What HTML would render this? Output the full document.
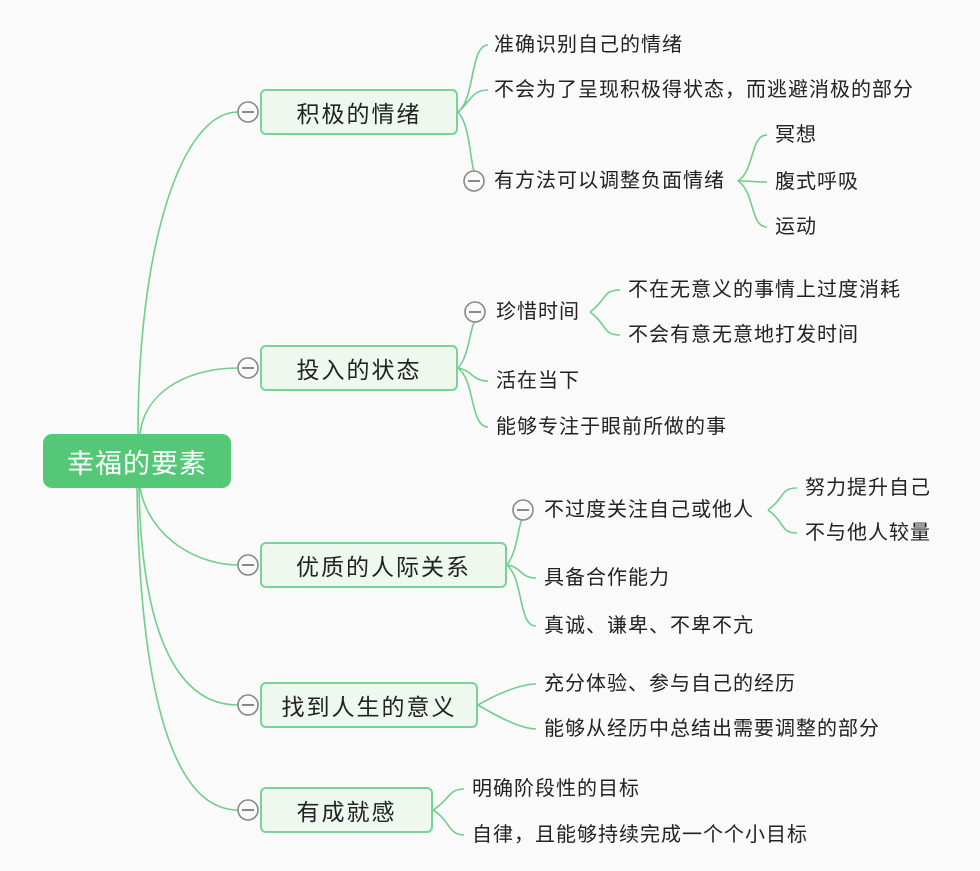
<html><head><style>
body{margin:0;background:#fafafa;width:980px;height:871px;position:relative;overflow:hidden;font-family:"Liberation Sans","Noto Sans CJK SC",sans-serif;}
.t{position:absolute;font-size:20px;letter-spacing:1px;color:#222;line-height:24px;white-space:nowrap;}
.b{position:absolute;background:#eef8ef;border:2px solid #79d296;border-radius:6px;box-sizing:border-box;font-size:23px;letter-spacing:2px;color:#222;display:flex;align-items:center;justify-content:center;}
</style></head><body>
<svg width="980" height="871" style="position:absolute;left:0;top:0" fill="none" stroke="#6fcf8b" stroke-width="1.6">
<path d="M138,434 C138,250 180,112 238,112"/>
<path d="M140,434 C145,390 190,368 238,368"/>
<path d="M140,488 C150,540 200,565 238,565"/>
<path d="M139,488 C142,640 180,705 238,705"/>
<path d="M137,488 C140,700 175,810 238,810"/>
<path d="M458,112 C475,100 470,45 488,45"/>
<path d="M458,112 C472,100 472,90 488,90"/>
<path d="M458,112 C470,125 470,160 474,171"/>
<path d="M738,181 C755,170 750,135 767,135"/>
<path d="M738,181 C755,181 750,182 767,182"/>
<path d="M738,181 C755,192 750,227 767,227"/>
<path d="M458,368 C470,355 470,325 475,322"/>
<path d="M458,368 C472,370 472,381 488,381"/>
<path d="M458,368 C475,380 470,427 488,427"/>
<path d="M590,312 C607,300 602,290 620,290"/>
<path d="M590,312 C607,324 602,335 620,335"/>
<path d="M507,565 C518,550 518,525 522,520"/>
<path d="M507,565 C522,567 520,578 536,578"/>
<path d="M507,565 C524,580 518,626 536,626"/>
<path d="M768,510 C785,498 780,488 797,488"/>
<path d="M768,510 C785,522 780,533 797,533"/>
<path d="M478,705 C495,695 520,684 536,684"/>
<path d="M478,705 C495,715 520,729 536,729"/>
<path d="M433,810 C450,800 448,789 464,789"/>
<path d="M433,810 C450,820 448,835 464,835"/>
<g stroke="#888" stroke-width="1.6" fill="#fafafa">
<circle cx="248" cy="112" r="10"/><circle cx="248" cy="368" r="10"/><circle cx="248" cy="565" r="10"/><circle cx="248" cy="705" r="10"/><circle cx="248" cy="810" r="10"/>
<circle cx="474" cy="181" r="10"/><circle cx="475" cy="312" r="10"/><circle cx="523" cy="510" r="10"/>
</g>
<g stroke="#888" stroke-width="2">
<path d="M242,112h12M242,368h12M242,565h12M242,705h12M242,810h12M468,181h12M469,312h12M517,510h12"/>
</g>
</svg>
<div style="position:absolute;left:43px;top:434px;width:188px;height:54px;background:#55c878;border-radius:9px;color:#fff;font-size:27px;letter-spacing:1px;display:flex;align-items:center;justify-content:center;">幸福的要素</div>
<div class="b" style="left:260px;top:89px;width:198px;height:46px">积极的情绪</div>
<div class="b" style="left:260px;top:345px;width:198px;height:46px">投入的状态</div>
<div class="b" style="left:260px;top:542px;width:247px;height:46px">优质的人际关系</div>
<div class="b" style="left:260px;top:682px;width:218px;height:46px">找到人生的意义</div>
<div class="b" style="left:260px;top:787px;width:173px;height:46px">有成就感</div>
<div class="t" style="left:494px;top:33px">准确识别自己的情绪</div>
<div class="t" style="left:494px;top:78px">不会为了呈现积极得状态，而逃避消极的部分</div>
<div class="t" style="left:494px;top:169px">有方法可以调整负面情绪</div>
<div class="t" style="left:775px;top:123px">冥想</div>
<div class="t" style="left:775px;top:170px">腹式呼吸</div>
<div class="t" style="left:775px;top:215px">运动</div>
<div class="t" style="left:496px;top:300px">珍惜时间</div>
<div class="t" style="left:628px;top:278px">不在无意义的事情上过度消耗</div>
<div class="t" style="left:628px;top:323px">不会有意无意地打发时间</div>
<div class="t" style="left:496px;top:369px">活在当下</div>
<div class="t" style="left:496px;top:415px">能够专注于眼前所做的事</div>
<div class="t" style="left:544px;top:498px">不过度关注自己或他人</div>
<div class="t" style="left:805px;top:476px">努力提升自己</div>
<div class="t" style="left:805px;top:521px">不与他人较量</div>
<div class="t" style="left:544px;top:566px">具备合作能力</div>
<div class="t" style="left:544px;top:614px">真诚、谦卑、不卑不亢</div>
<div class="t" style="left:544px;top:672px">充分体验、参与自己的经历</div>
<div class="t" style="left:544px;top:717px">能够从经历中总结出需要调整的部分</div>
<div class="t" style="left:472px;top:777px">明确阶段性的目标</div>
<div class="t" style="left:472px;top:823px">自律，且能够持续完成一个个小目标</div>
</body></html>
